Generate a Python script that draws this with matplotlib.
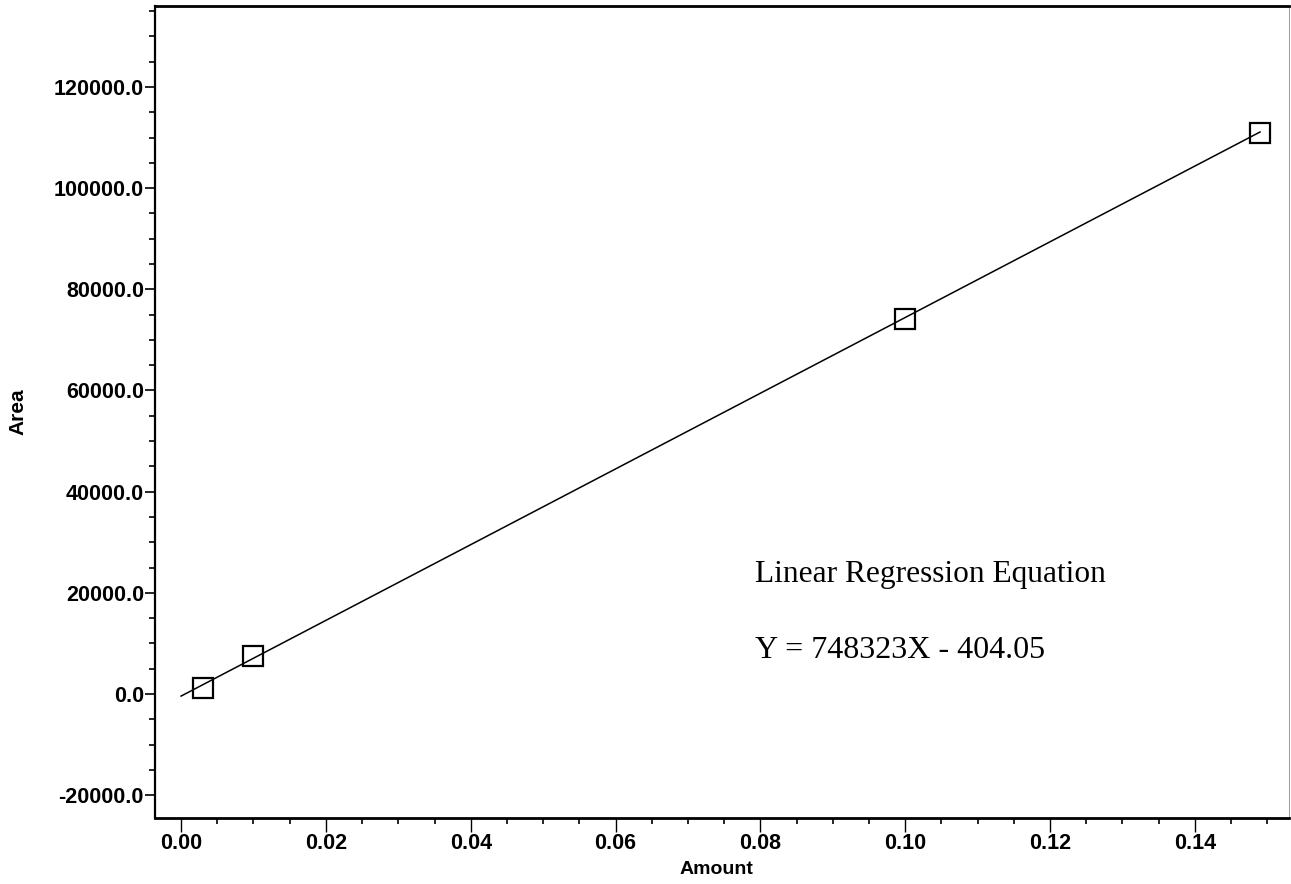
import matplotlib
matplotlib.use("Agg")
import matplotlib.pyplot as plt
from matplotlib.ticker import MultipleLocator, FormatStrFormatter

# Calibration standards (amount vs. peak area)
amount = [0.003, 0.01, 0.10, 0.149]
area = [1200.0, 7500.0, 74100.0, 110900.0]

# Fitted regression line
slope = 748323.0
intercept = -404.05

x_ticks = [0.00, 0.02, 0.04, 0.06, 0.08, 0.10, 0.12, 0.14]
y_ticks = [-20000.0, 0.0, 20000.0, 40000.0, 60000.0, 80000.0, 100000.0, 120000.0]

W, H = 1291, 884
fig = plt.figure(figsize=(W / 100, H / 100), dpi=100)
fig.patch.set_facecolor("white")

left, right, top, bottom = 155, 1289, 6, 818
ax = fig.add_axes([left / W, 1 - bottom / H, (right - left) / W, (bottom - top) / H])

fit_x = [0.0, max(amount)]
fit_y = [slope * x + intercept for x in fit_x]
ax.plot(fit_x, fit_y, color="black", linewidth=1.1, zorder=2)
ax.plot(amount, area, linestyle="none", marker="s", markersize=14.5,
        markerfacecolor="none", markeredgecolor="black", markeredgewidth=1.6, zorder=3)

ax.set_xlim(-0.0036, 0.153)
ax.set_ylim(-24500, 136000)

ax.set_xticks(x_ticks)
ax.set_yticks(y_ticks)
ax.xaxis.set_minor_locator(MultipleLocator(0.005))
ax.yaxis.set_minor_locator(MultipleLocator(5000))
ax.xaxis.set_major_formatter(FormatStrFormatter("%.2f"))
ax.yaxis.set_major_formatter(FormatStrFormatter("%.1f"))

for lab in ax.get_xticklabels() + ax.get_yticklabels():
    lab.set_fontfamily("Liberation Sans")
    lab.set_fontweight("bold")
    lab.set_fontsize(15.5)

ax.tick_params(axis="x", which="major", direction="out", length=10, width=1.0, pad=1)
ax.tick_params(axis="x", which="minor", direction="out", length=4.5, width=1.2)
ax.tick_params(axis="y", which="major", direction="out", length=7, width=1.2, pad=1)
ax.tick_params(axis="y", which="minor", direction="out", length=4, width=1.2)
ax.tick_params(top=False, right=False, which="both")

ax.spines["left"].set_linewidth(1.6)
ax.spines["bottom"].set_linewidth(2.0)
ax.spines["top"].set_linewidth(2.0)
ax.spines["right"].set_linewidth(0.6)
ax.spines["right"].set_color("#888888")

fig.text(716 / W, 1 - 870 / H, "Amount", ha="center", va="center",
         fontfamily="Liberation Sans", fontweight="bold", fontsize=14)
fig.text(18 / W, 1 - 412 / H, "Area", ha="center", va="center", rotation=90,
         fontfamily="Liberation Sans", fontweight="bold", fontsize=15)

fig.text(755 / W, 1 - 582 / H, "Linear Regression Equation", ha="left", va="baseline",
         fontfamily="Liberation Serif", fontsize=22.6)
fig.text(755 / W, 1 - 658 / H, f"Y = {slope:.0f}X - {abs(intercept):.2f}", ha="left",
         va="baseline", fontfamily="Liberation Serif", fontsize=23)

fig.savefig("out.png", dpi=100, facecolor="white")
